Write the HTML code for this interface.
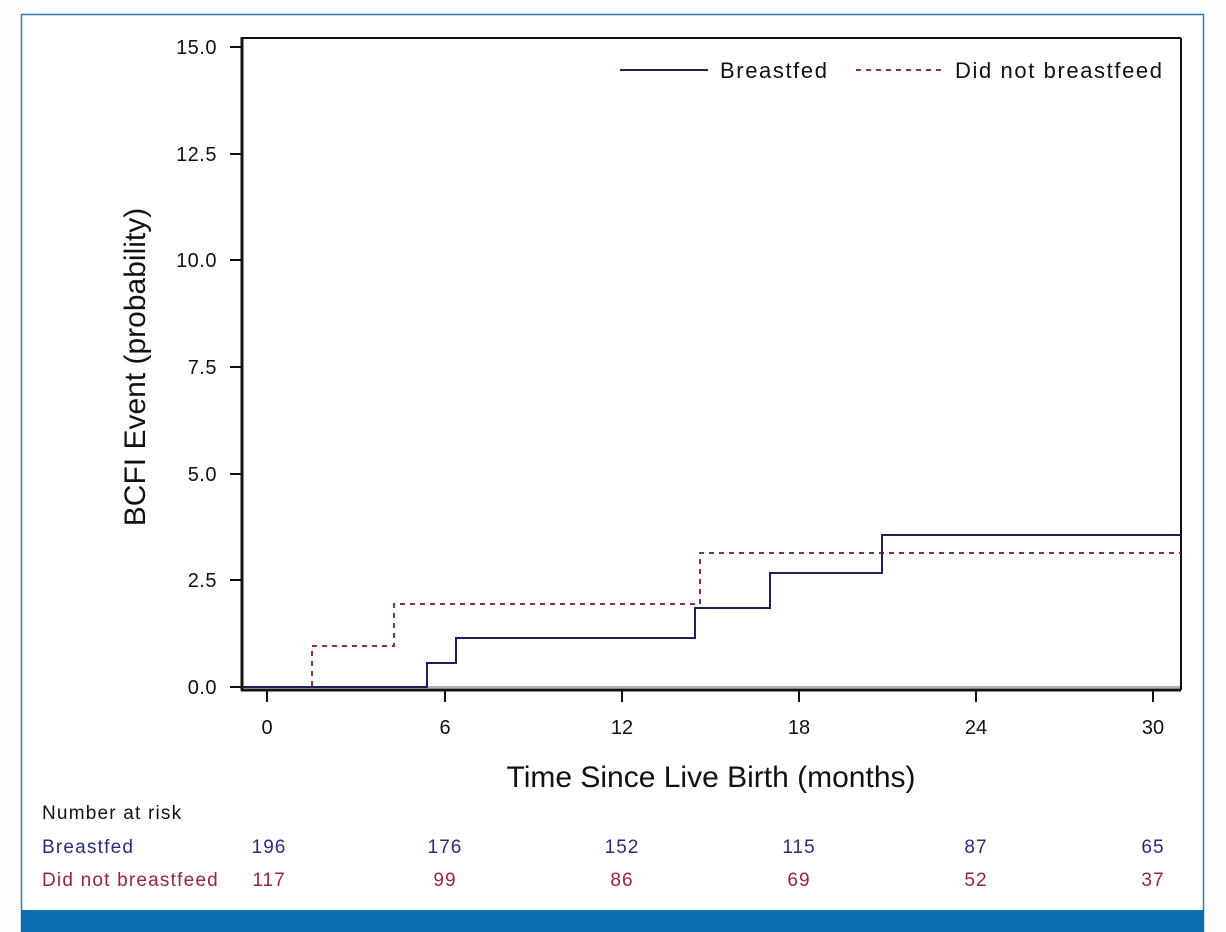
<!DOCTYPE html>
<html><head><style>
body{margin:0;background:#fff;}
svg{display:block;font-family:"Liberation Sans",sans-serif;}
</style></head><body>
<svg width="1226" height="932" viewBox="0 0 1226 932">
<rect x="0" y="0" width="1226" height="932" fill="#fdfdfd"/>
<rect x="21.5" y="14.5" width="1182" height="918" fill="#fff" stroke="#2a7bc0" stroke-width="1.5"/>
<rect x="21" y="910" width="1183" height="22" fill="#0a6eb0"/>
<line x1="242" y1="38" x2="1181" y2="38" stroke="#111" stroke-width="2"/>
<line x1="1181" y1="38" x2="1181" y2="690" stroke="#111" stroke-width="2"/>
<line x1="242" y1="37" x2="242" y2="691" stroke="#111" stroke-width="3"/>
<line x1="241" y1="690" x2="1181" y2="690" stroke="#111" stroke-width="3"/>
<line x1="243" y1="687" x2="1180" y2="687" stroke="#999" stroke-width="1.5"/>
<g stroke="#111" stroke-width="2">
<line x1="230" y1="47" x2="241" y2="47"/><line x1="230" y1="154" x2="241" y2="154"/><line x1="230" y1="260" x2="241" y2="260"/><line x1="230" y1="367" x2="241" y2="367"/><line x1="230" y1="474" x2="241" y2="474"/><line x1="230" y1="580" x2="241" y2="580"/><line x1="230" y1="687" x2="241" y2="687"/>
<line x1="267" y1="691" x2="267" y2="702"/><line x1="445" y1="691" x2="445" y2="702"/><line x1="622" y1="691" x2="622" y2="702"/><line x1="799" y1="691" x2="799" y2="702"/><line x1="976" y1="691" x2="976" y2="702"/><line x1="1153" y1="691" x2="1153" y2="702"/>
</g>
<g font-size="20" fill="#111" text-anchor="end" letter-spacing="0.5">
<text x="217" y="54">15.0</text><text x="217" y="161">12.5</text><text x="217" y="267">10.0</text><text x="217" y="374">7.5</text><text x="217" y="481">5.0</text><text x="217" y="587">2.5</text><text x="217" y="694">0.0</text>
</g>
<g font-size="20" fill="#111" text-anchor="middle">
<text x="267" y="734">0</text><text x="445" y="734">6</text><text x="622" y="734">12</text><text x="799" y="734">18</text><text x="976" y="734">24</text><text x="1153" y="734">30</text>
</g>
<text x="711" y="787" font-size="30" text-anchor="middle" fill="#111">Time Since Live Birth (months)</text>
<text transform="translate(145,367) rotate(-90)" font-size="30" text-anchor="middle" fill="#111">BCFI Event (probability)</text>
<polyline fill="none" stroke="#8b2f4f" stroke-width="2" stroke-dasharray="5,5" points="243,687 312,687 312,646 394,646 394,604 700,604 700,553 1181,553"/>
<polyline fill="none" stroke="#1f1f5f" stroke-width="2" points="243,687 427,687 427,663 456,663 456,638 695,638 695,608 770,608 770,573 882,573 882,535 1181,535"/>
<line x1="620" y1="70" x2="708" y2="70" stroke="#1f1f5f" stroke-width="2"/>
<text x="720" y="78" font-size="22" letter-spacing="1.6" fill="#111">Breastfed</text>
<line x1="856" y1="70" x2="942" y2="70" stroke="#8b2f4f" stroke-width="2" stroke-dasharray="5,5"/>
<text x="955" y="78" font-size="22" letter-spacing="1.6" fill="#111">Did not breastfeed</text>
<g font-size="19" letter-spacing="1.2">
<text x="42" y="819" fill="#111">Number at risk</text>
<text x="42" y="853" fill="#2b2b7a">Breastfed</text>
<text x="42" y="886" fill="#9b2340">Did not breastfeed</text>
</g>
<g font-size="19" letter-spacing="1" fill="#2b2b7a" text-anchor="middle">
<text x="269" y="853">196</text><text x="445" y="853">176</text><text x="622" y="853">152</text><text x="799" y="853">115</text><text x="976" y="853">87</text><text x="1153" y="853">65</text>
</g>
<g font-size="19" letter-spacing="1" fill="#9b2340" text-anchor="middle">
<text x="269" y="886">117</text><text x="445" y="886">99</text><text x="622" y="886">86</text><text x="799" y="886">69</text><text x="976" y="886">52</text><text x="1153" y="886">37</text>
</g>
</svg>
</body></html>
